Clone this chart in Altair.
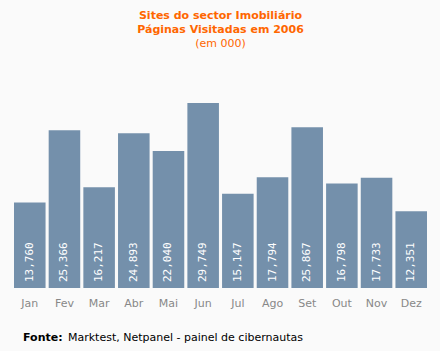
import altair as alt
import pandas as pd

months = ["Jan", "Fev", "Mar", "Abr", "Mai", "Jun", "Jul", "Ago", "Set", "Out", "Nov", "Dez"]
values = [13760, 25366, 16217, 24893, 22040, 29749, 15147, 17794, 25867, 16798, 17733, 12351]

title_lines = ["Sites do sector Imobiliário", "Páginas Visitadas em 2006"]
subtitle = "(em 000)"
source_bold = "Fonte:"
source_text = "Marktest, Netpanel - painel de cibernautas"

df = pd.DataFrame({"mes": months, "valor": values})
one = pd.DataFrame({"k": [0]})

x_enc = alt.X("mes:N", sort=months,
              scale=alt.Scale(paddingInner=0.09, paddingOuter=0.0),
              axis=alt.Axis(title=None, labelAngle=0, domain=False, ticks=False,
                            labelColor="#888888", labelFont="DejaVu Sans", labelFontSize=11,
                            labelPadding=9))
y_scale = alt.Scale(domain=[0, 32160], nice=False)

bars = alt.Chart(df).mark_bar(color="#7490AB").encode(
    x=x_enc,
    y=alt.Y("valor:Q", scale=y_scale, axis=None),
)

labels = alt.Chart(df).mark_text(
    angle=270, align="left", baseline="middle", dx=6, color="white",
    font="DejaVu Sans Mono", fontSize=11,
).encode(
    x=alt.X("mes:N", sort=months),
    y=alt.datum(0),
    text=alt.Text("valor:Q", format=","),
)

def note(text, x, y, bold=False, color="#FF6600", align="center"):
    kw = dict(font="DejaVu Sans", fontSize=11, color=color, align=align)
    if bold:
        kw["fontWeight"] = "bold"
    return alt.Chart(one).mark_text(**kw).encode(
        x=alt.value(x), y=alt.value(y), text=alt.value(text))

t1 = note(title_lines[0], 206.5, -72, bold=True)
t2 = note(title_lines[1], 206.5, -58, bold=True)
t3 = note(subtitle, 206.5, -44)
f1 = note(source_bold, 9, 250, bold=True, color="#000000", align="left")
f2 = note(source_text, 54, 250, color="#000000", align="left")

chart = alt.layer(bars, labels, t1, t2, t3, f1, f2).properties(
    width=413, height=200,
    autosize=alt.AutoSizeParams(type="none"),
    padding={"left": 14, "top": 88, "right": 13, "bottom": 63},
    background="#FAFAFA",
).configure_view(stroke=None)

chart.save("out.html", embed_options={"renderer": "svg", "actions": False})
